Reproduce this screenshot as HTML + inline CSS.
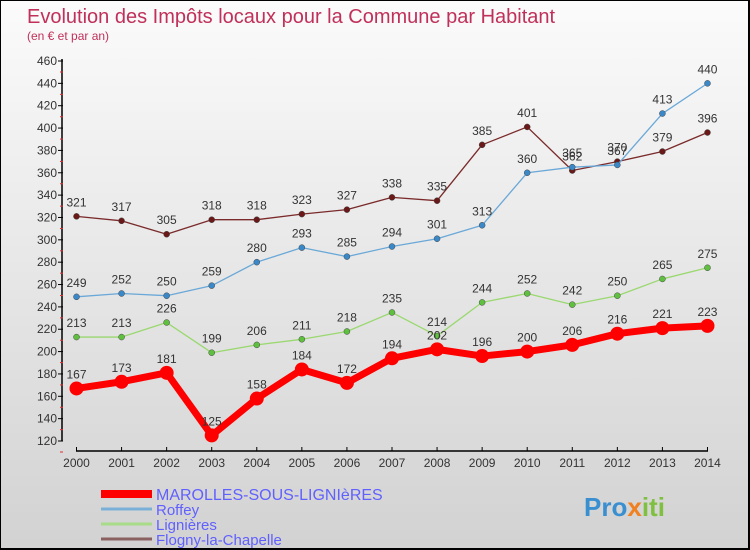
<!DOCTYPE html>
<html><head><meta charset="utf-8"><style>
body{margin:0}
#c{width:750px;height:550px;position:relative;overflow:hidden;background:linear-gradient(#fbfbfb,#d2d2d2);box-sizing:border-box;border:1px solid #000;border-bottom-width:2px;border-right-width:2px;font-family:"Liberation Sans",sans-serif}
</style></head><body>
<div id="c">
<svg id="s" width="750" height="550" style="position:absolute;left:0;top:0">
<text x="26" y="22" font-size="20" fill="#c0305a">Evolution des Impôts locaux pour la Commune par Habitant</text>
<text x="26" y="39" font-size="12" fill="#c0305a">(en € et par an)</text>
<g id="axes"></g><g id="series"></g><g id="legend"></g>
<text x="583" y="515" font-size="26" font-weight="bold" fill="#3a8fd0">Pro<tspan fill="#f08020">x</tspan><tspan fill="#80c040">iti</tspan></text>
</svg>
</div>
<script>
const years=[2000,2001,2002,2003,2004,2005,2006,2007,2008,2009,2010,2011,2012,2013,2014];
const yTicks=[120,140,160,180,200,220,240,260,280,300,320,340,360,380,400,420,440,460];
const marolles=[167,173,181,125,158,184,172,194,202,196,200,206,216,221,223];
const roffey=[249,252,250,259,280,293,285,294,301,313,360,365,367,413,440];
const lignieres=[213,213,226,199,206,211,218,235,214,244,252,242,250,265,275];
const flogny=[321,317,305,318,318,323,327,338,335,385,401,362,370,379,396];
const names=["MAROLLES-SOUS-LIGNIèRES","Roffey","Lignières","Flogny-la-Chapelle"];
const NS="http://www.w3.org/2000/svg";
function X(i){return 75.5+i*45.07}
function Y(v){return 440-(v-120)*380/340}
function mk(p,t,a){const e=document.createElementNS(NS,t);for(const k in a)e.setAttribute(k,a[k]);p.appendChild(e);return e}
const ax=document.getElementById('axes');
mk(ax,'line',{x1:61,y1:58,x2:61,y2:440,stroke:'#000','stroke-width':1.5});
mk(ax,'line',{x1:75,y1:450,x2:707,y2:450,stroke:'#000','stroke-width':1.5});
yTicks.forEach(v=>{const y=Y(v);
 mk(ax,'line',{x1:57,y1:y,x2:62,y2:y,stroke:'#000'});
 mk(ax,'line',{x1:59,y1:y+11,x2:62,y2:y+11,stroke:'#e03030'});
 const t=mk(ax,'text',{x:56,y:y+4,'font-size':12,fill:'#333','text-anchor':'end'});t.textContent=v;
 
 });
years.forEach((yr,i)=>{const x=X(i);
 mk(ax,'line',{x1:x,y1:446,x2:x,y2:450,stroke:'#000'});
 const t=mk(ax,'text',{x:x,y:466,'font-size':12,fill:'#333','text-anchor':'middle'});t.textContent=yr;
 
 });
const sg=document.getElementById('series');
const defs=[[flogny,'#7a2a2a','#6a1818',1.3,3],[lignieres,'#9ad870','#5fc040',1.3,3],[roffey,'#6aa8d8','#3a88c8',1.3,3],[marolles,'#ff0000','#ff0000',7,7]];
const snames=['flogny','lignieres','roffey','marolles'];
defs.forEach((d,si)=>{const [vals,lc,pc,w,r]=d;
 const g=mk(sg,'g',{});
 
 
 mk(g,'polyline',{points:vals.map((v,i)=>X(i)+','+Y(v)).join(' '),fill:'none',stroke:lc,'stroke-width':w,'stroke-linejoin':'round'});
 vals.forEach((v,i)=>{const c=mk(g,'circle',{cx:X(i),cy:Y(v),r:r,fill:pc,stroke:w>2?'none':'#444','stroke-width':0.5});
  
  
  const t=mk(g,'text',{x:X(i),y:Y(v)-10,'font-size':12,fill:'#333','text-anchor':'middle'});t.textContent=v;
  
  });
});
const lg=document.getElementById('legend');
const lcol=['#ff0000','#7ab0d8','#a8dc88','#8a6060'],lw=[8,3,3,3];
names.forEach((n,i)=>{const y=493+i*15;
 const g=mk(lg,'g',{});
 
 
 mk(g,'line',{x1:100,y1:y,x2:151,y2:y,stroke:lcol[i],'stroke-width':lw[i]});
 const t=mk(g,'text',{x:155,y:y+6,'font-size':i==0?16:15,fill:'#6060ff'});t.textContent=n;});
</script>
</body></html>
